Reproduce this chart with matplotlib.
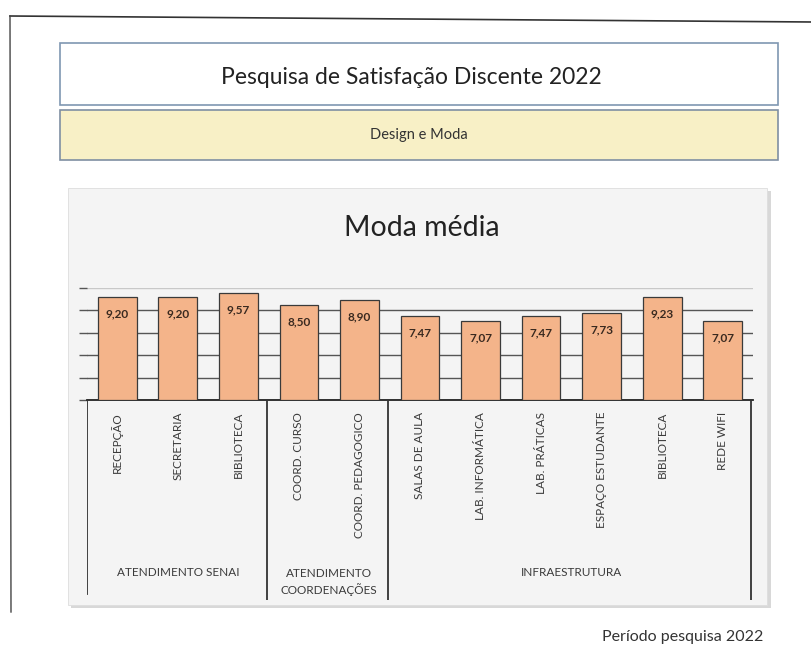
#! /usr/bin/env python3
'''
Pesquisa de Satisfacao Discente 2022 - Moda media (Design e Moda)
'''

import matplotlib
matplotlib.use('Agg')
import matplotlib.pyplot as plt
from matplotlib.patches import Rectangle
from matplotlib.lines import Line2D


categorias = ['RECEPÇÃO', 'SECRETARIA', 'BIBLIOTECA', 'COORD. CURSO',
              'COORD. PEDAGOGICO', 'SALAS DE AULA', 'LAB. INFORMÁTICA',
              'LAB. PRÁTICAS', 'ESPAÇO ESTUDANTE', 'BIBLIOTECA', 'REDE WIFI']
moda = [9.20, 9.20, 9.57, 8.50, 8.90, 7.47, 7.07, 7.47, 7.73, 9.23, 7.07]
grupos = ['ATENDIMENTO SENAI', 'ATENDIMENTO\nCOORDENAÇÕES', 'INFRAESTRUTURA']
grupo_tamanho = [3, 2, 6]

titulo = 'Pesquisa de Satisfação Discente 2022'
subtitulo = 'Design e Moda'
titulo_grafico = 'Moda média'
rodape = 'Período pesquisa 2022'

W, H = 812, 648
bar_color = '#f4b48a'
font = ['Lato', 'DejaVu Sans']


def fx(px):
    return px / W


def fy(py):
    return 1 - py / H


def box(fig, x0, y0, x1, y1, face, edge, lw=1.0, z=-2):
    r = Rectangle((fx(x0), fy(y1)), fx(x1) - fx(x0), fy(y0) - fy(y1),
                  transform=fig.transFigure, facecolor=face, edgecolor=edge,
                  linewidth=lw, zorder=z)
    fig.add_artist(r)


def main():
    plt.rcParams['font.family'] = font
    fig = plt.figure(figsize=(W / 100, H / 100), dpi=100)
    fig.patch.set_facecolor('white')

    # page edges of the scan
    fig.add_artist(Line2D([fx(10), fx(812)], [fy(16), fy(22)],
                          transform=fig.transFigure, color='#333333', lw=1.2))
    fig.add_artist(Line2D([fx(10), fx(11)], [fy(16), fy(612)],
                          transform=fig.transFigure, color='#444444', lw=1.0))

    # header boxes
    box(fig, 60, 43, 778, 105, 'white', '#7f97b2', 1.2)
    fig.text(fx(411), fy(77), titulo, ha='center', va='center',
             fontsize=16.5, color='#222222')
    box(fig, 60, 110, 778, 160, '#f8f0c6', '#7f8fa2', 1.2)
    fig.text(fx(419), fy(135), subtitulo, ha='center', va='center',
             fontsize=10.5, color='#333333')

    # chart panel with shadow
    box(fig, 71, 191, 771, 608, '#d8d8d8', 'none', 0, z=-3)
    box(fig, 68, 188, 767, 605, '#f4f4f4', '#dddddd', 0.6)
    fig.text(fx(422), fy(228), titulo_grafico, ha='center', va='center',
             fontsize=20.5, color='#222222')

    n = len(categorias)
    xs = list(range(n))

    # bars
    ax = fig.add_axes([fx(87), fy(400), fx(753) - fx(87), fy(288) - fy(400)])
    ax.set_facecolor('none')
    ax.bar(xs, moda, width=0.64, color=bar_color, edgecolor='#3a3a3a',
           linewidth=0.9, zorder=3)
    for x, v in zip(xs, moda):
        ax.text(x, v - 1.5, f'{v:.2f}'.replace('.', ','), ha='center',
                va='center', fontsize=8.5, fontweight='bold', color='#3a2a20',
                zorder=4)
    ax.set_xlim(-0.5, n - 0.5)
    ax.set_ylim(0, 10)
    ax.set_yticks([0, 2, 4, 6, 8, 10])
    ax.set_yticklabels([])
    ax.set_xticks([])
    ax.grid(axis='y', color='#555555', linewidth=1.0, zorder=0)
    ax.get_ygridlines()[-1].set_color('#c8c8c8')
    ax.tick_params(axis='y', length=6, color='#555555', width=1.0)
    for s in ['top', 'right', 'left']:
        ax.spines[s].set_visible(False)
    ax.spines['bottom'].set_color('#222222')
    ax.spines['bottom'].set_linewidth(1.3)

    # category table
    tx = fig.add_axes([fx(87), fy(600), fx(753) - fx(87), fy(400) - fy(600)])
    tx.set_xlim(-0.5, n - 0.5)
    tx.set_ylim(1, 0)
    tx.axis('off')
    tx.set_facecolor('none')
    for x, c in zip(xs, categorias):
        tx.text(x, 0.06, c, rotation=90, ha='center', va='top',
                fontsize=8.5, color='#3a3a3a')
    start = 0
    tx.plot([-0.5, -0.5], [0, 0.97], color='#333333', lw=1.3)
    for g, k in zip(grupos, grupo_tamanho):
        end = start + k
        tx.plot([end - 0.53, end - 0.53], [0, 1], color='#333333', lw=1.3)
        yc = 0.91 if '\n' in g else 0.86
        tx.text((start + end - 1) / 2, yc, g, ha='center', va='center',
                fontsize=8.5, color='#3a3a3a', linespacing=1.3)
        start = end

    fig.text(fx(683), fy(637), rodape, ha='center', va='center',
             fontsize=11.5, color='#333333')

    fig.savefig('out.png', dpi=100)


if __name__ == '__main__':
    main()
